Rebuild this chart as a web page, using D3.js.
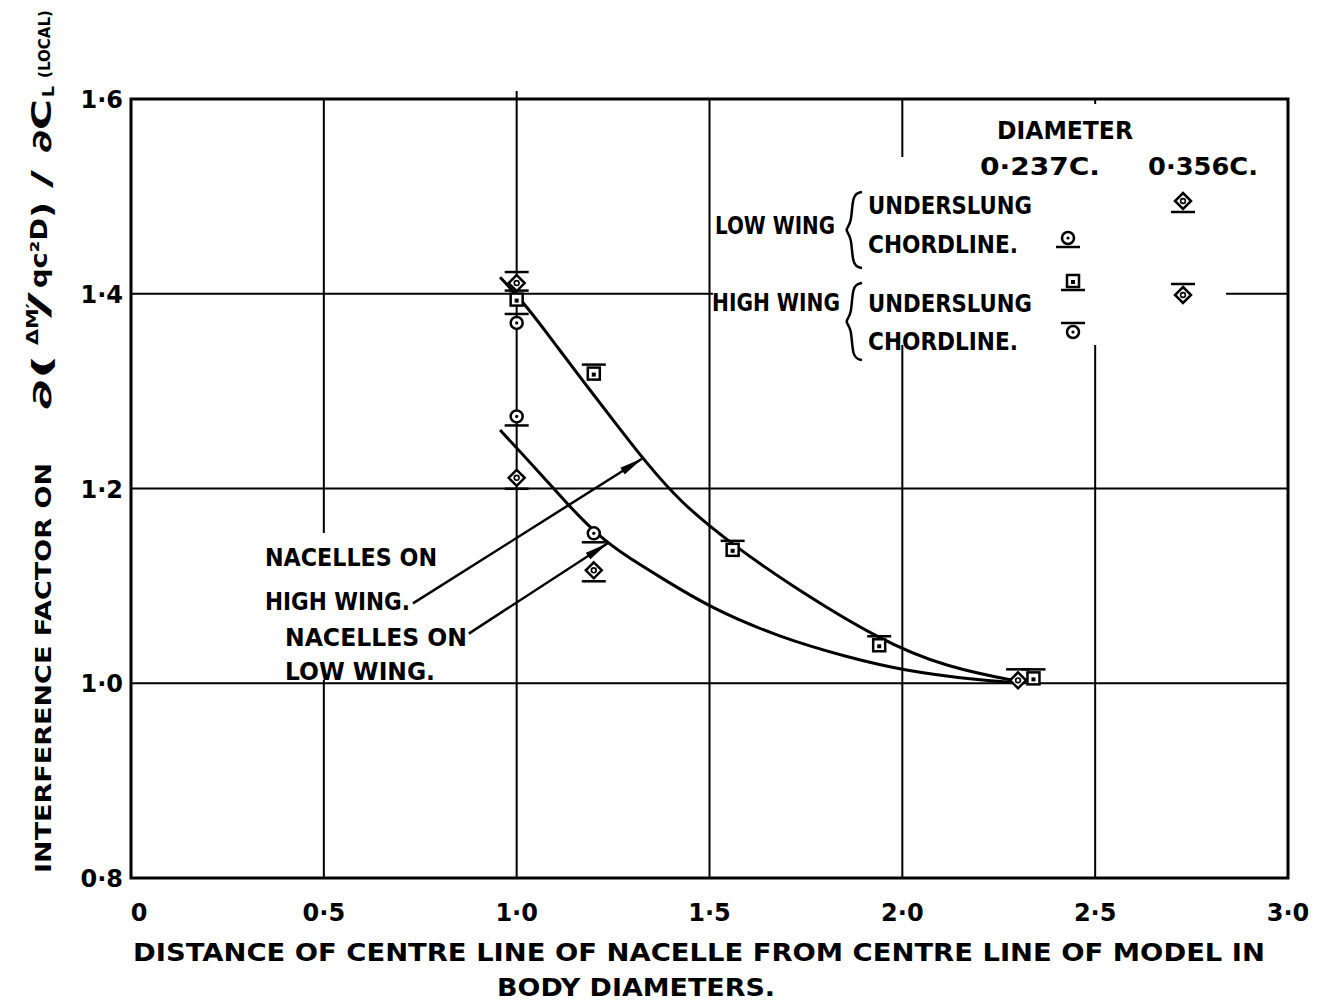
<!DOCTYPE html>
<html>
<head>
<meta charset="utf-8">
<script src="https://cdn.jsdelivr.net/npm/d3@7"></script>
<style>
  html, body { margin: 0; padding: 0; background: #fff; }
  svg text { font-family: "DejaVu Sans", sans-serif; font-weight: bold; fill: #000; }
</style>
</head>
<body>
<div id="chart"></div>
<script>
// tick values and their drawn labels
const xTicks = [0, 0.5, 1.0, 1.5, 2.0, 2.5, 3.0];
const xTickLabels = ['0', '0·5', '1·0', '1·5', '2·0', '2·5', '3·0'];
const yTicks = [0.8, 1.0, 1.2, 1.4, 1.6];
const yTickLabels = ['0·8', '1·0', '1·2', '1·4', '1·6'];

// measured points: [distance, factor]
const lowUnderslung356 = [[1.0, 1.211], [1.2, 1.116]];
const lowChordline237 = [[1.0, 1.274], [1.2, 1.154]];
const highUnderslung237 = [[1.0, 1.394], [1.2, 1.318], [1.56, 1.137], [1.94, 1.039], [2.34, 1.005]];
const highUnderslung356 = [[1.0, 1.411], [2.30, 1.003]];
const highChordline237 = [[1.0, 1.370]];

// faired curves
const highWingCurve = [[0.957, 1.417], [1.027, 1.387], [1.104, 1.346], [1.190, 1.301], [1.276, 1.257],
  [1.327, 1.231], [1.423, 1.186], [1.561, 1.142], [1.701, 1.103], [1.942, 1.044], [2.116, 1.016], [2.313, 1.001]];
const lowWingCurve = [[0.957, 1.260], [1.060, 1.216], [1.138, 1.181], [1.216, 1.150], [1.286, 1.130],
  [1.372, 1.109], [1.504, 1.077], [1.683, 1.047], [1.856, 1.027], [2.002, 1.013], [2.201, 1.003], [2.287, 1.001]];

// leader arrows: [from, to]
const highArrow = [[0.731, 1.082], [1.327, 1.231]];
const lowArrow = [[0.876, 1.051], [1.237, 1.144]];

const width = 1331, height = 1004;

const svg = d3.select('#chart').append('svg')
  .attr('width', width).attr('height', height);

const x = d3.scaleLinear().domain([0, 3]).range([131, 1288]);
const y = d3.scaleLinear().domain([0.8, 1.6]).range([878, 99]);

// grid
const grid = svg.append('g');
grid.selectAll('.vx').data(xTicks).join('line')
  .attr('x1', d => x(d)).attr('x2', d => x(d))
  .attr('y1', y(1.6)).attr('y2', y(0.8))
  .attr('stroke', '#000').attr('stroke-width', 2);
grid.selectAll('.hy').data(yTicks).join('line')
  .attr('x1', x(0)).attr('x2', x(3))
  .attr('y1', d => y(d)).attr('y2', d => y(d))
  .attr('stroke', '#000').attr('stroke-width', 2);

// white patches where the lettering sits over the grid
const masks = [
  [713, 157, 1226, 345],
  [940, 104, 1285, 157],
  [255, 533, 476, 680]
];
svg.append('g').selectAll('rect').data(masks).join('rect')
  .attr('x', d => d[0]).attr('y', d => d[1])
  .attr('width', d => d[2] - d[0]).attr('height', d => d[3] - d[1])
  .attr('fill', '#fff');

// frame
svg.append('rect')
  .attr('x', x(0)).attr('y', y(1.6))
  .attr('width', x(3) - x(0)).attr('height', y(0.8) - y(1.6))
  .attr('fill', 'none').attr('stroke', '#000').attr('stroke-width', 3);
// small overshoot of the 1.0 line above the frame
svg.append('line')
  .attr('x1', x(1)).attr('x2', x(1)).attr('y1', y(1.6) - 8).attr('y2', y(1.6))
  .attr('stroke', '#000').attr('stroke-width', 2);

// tick labels
svg.append('g').selectAll('text').data(xTicks).join('text')
  .attr('x', d => x(d) + (d === 0 ? 8 : 0))
  .attr('y', 921)
  .attr('text-anchor', 'middle')
  .attr('font-size', 24)
  .text((d, i) => xTickLabels[i]);

svg.append('g').selectAll('text').data(yTicks).join('text')
  .attr('x', 123)
  .attr('y', d => y(d) + 9)
  .attr('text-anchor', 'end')
  .attr('font-size', 24)
  .text((d, i) => yTickLabels[i]);

// axis titles
svg.append('text')
  .attr('x', 133).attr('y', 961)
  .attr('font-size', 24)
  .attr('textLength', 1132).attr('lengthAdjust', 'spacingAndGlyphs')
  .text('DISTANCE OF CENTRE LINE OF NACELLE FROM CENTRE LINE OF MODEL IN');
svg.append('text')
  .attr('x', 497).attr('y', 996)
  .attr('font-size', 24)
  .attr('textLength', 278).attr('lengthAdjust', 'spacingAndGlyphs')
  .text('BODY DIAMETERS.');

// rotated y title, built from pieces: [text, start (screen y), baseline shift, size, length]
const yTitleParts = [
  ['INTERFERENCE  FACTOR  ON', 873, 0, 22, 410],
  ['∂(', 410, 0, 27, 56],
  ['ΔM\u2032', 345, -13, 16, 42],
  ['/', 318, -2, 28, 26],
  ['qc²D', 288, -4, 23, 70],
  [')', 218, 0, 27, 16],
  ['/', 188, 0, 27, 18],
  ['∂C', 153, 0, 27, 54],
  ['L', 97, 3, 15, 11],
  ['(LOCAL)', 78, -1, 16, 68]
];
const yt = svg.append('g').attr('transform', 'translate(51,0) rotate(-90)');
yt.selectAll('text').data(yTitleParts).join('text')
  .attr('x', d => -d[1]).attr('y', d => d[2])
  .attr('font-size', d => d[3])
  .attr('textLength', d => d[4]).attr('lengthAdjust', 'spacingAndGlyphs')
  .text(d => d[0]);

// curves
const line = d3.line().x(d => x(d[0])).y(d => y(d[1])).curve(d3.curveBasis);
[highWingCurve, lowWingCurve].forEach(c => {
  svg.append('path').attr('d', line(c))
    .attr('fill', 'none').attr('stroke', '#000').attr('stroke-width', 3);
});

// leader arrows
svg.append('defs').append('marker')
  .attr('id', 'head').attr('viewBox', '0 0 24 10')
  .attr('refX', 24).attr('refY', 5)
  .attr('markerWidth', 24).attr('markerHeight', 10)
  .attr('markerUnits', 'userSpaceOnUse')
  .attr('orient', 'auto')
  .append('path').attr('d', 'M0,1 L24,5 L0,9 Z').attr('fill', '#000');
[highArrow, lowArrow].forEach(a => {
  svg.append('line')
    .attr('x1', x(a[0][0])).attr('y1', y(a[0][1]))
    .attr('x2', x(a[1][0])).attr('y2', y(a[1][1]))
    .attr('stroke', '#000').attr('stroke-width', 2.5)
    .attr('marker-end', 'url(#head)');
});

// marker symbols
function drawMarker(g, shape, bar, cx, cy) {
  const m = g.append('g').attr('transform', `translate(${cx},${cy})`);
  const sw = 2.5;
  let half;
  if (shape === 'circle') {
    half = 6;
    m.append('circle').attr('r', 6).attr('fill', '#fff').attr('stroke', '#000').attr('stroke-width', sw);
    m.append('circle').attr('r', 1.6).attr('fill', '#000');
  } else if (shape === 'diamond') {
    half = 8;
    m.append('path').attr('d', 'M0,-8 L8,0 L0,8 L-8,0 Z').attr('fill', '#fff').attr('stroke', '#000').attr('stroke-width', sw);
    m.append('circle').attr('r', 2.4).attr('fill', 'none').attr('stroke', '#000').attr('stroke-width', 1.6);
  } else {
    half = 6;
    m.append('rect').attr('x', -6).attr('y', -6).attr('width', 12).attr('height', 12)
      .attr('fill', '#fff').attr('stroke', '#000').attr('stroke-width', sw);
    m.append('rect').attr('x', -2).attr('y', -1).attr('width', 4).attr('height', 4).attr('fill', '#000');
  }
  const by = bar === 'below' ? half + 3 : -(half + 3);
  m.append('line').attr('x1', -12).attr('x2', 12).attr('y1', by).attr('y2', by)
    .attr('stroke', '#000').attr('stroke-width', 2.5);
}

const pts = svg.append('g');
const series = [
  [lowUnderslung356, 'diamond', 'below'],
  [lowChordline237, 'circle', 'below'],
  [highUnderslung237, 'square', 'above'],
  [highUnderslung356, 'diamond', 'above'],
  [highChordline237, 'circle', 'above']
];
series.forEach(([data, shape, bar]) => {
  data.forEach(d => drawMarker(pts, shape, bar, x(d[0]), y(d[1])));
});

// annotation labels
function label(txt, lx, ly, len, size) {
  svg.append('text').attr('x', lx).attr('y', ly)
    .attr('font-size', size || 24)
    .attr('textLength', len).attr('lengthAdjust', 'spacingAndGlyphs')
    .text(txt);
}
label('NACELLES ON', 265, 566, 172);
label('HIGH WING.', 265, 610, 145);
label('NACELLES ON', 285, 646, 182);
label('LOW WING.', 285, 680, 150);

// key
label('DIAMETER', 997, 139, 136, 25);
label('0·237C.', 980, 175, 120, 25);
label('0·356C.', 1148, 175, 110, 25);
label('LOW WING', 715, 234, 120, 24);
label('UNDERSLUNG', 868, 214, 164, 25);
label('CHORDLINE.', 868, 253, 150, 25);
label('HIGH WING', 712, 311, 128, 24);
label('UNDERSLUNG', 868, 312, 164, 25);
label('CHORDLINE.', 868, 350, 150, 25);

const brace = d3.line().curve(d3.curveBasis);
function drawBrace(top, bottom, bx) {
  const mid = (top + bottom) / 2;
  svg.append('path')
    .attr('d', brace([[bx + 12, top], [bx + 2, top + 2], [bx + 2, mid - 6], [bx - 6, mid], [bx + 2, mid + 6], [bx + 2, bottom - 2], [bx + 12, bottom]]))
    .attr('fill', 'none').attr('stroke', '#000').attr('stroke-width', 2.5);
}
drawBrace(192, 268, 850);
drawBrace(283, 360, 850);

const key = svg.append('g');
drawMarker(key, 'diamond', 'below', 1183, 201);
drawMarker(key, 'circle', 'below', 1068, 238);
drawMarker(key, 'square', 'below', 1073, 281);
drawMarker(key, 'diamond', 'above', 1183, 295);
drawMarker(key, 'circle', 'above', 1073, 332);
</script>
</body>
</html>
